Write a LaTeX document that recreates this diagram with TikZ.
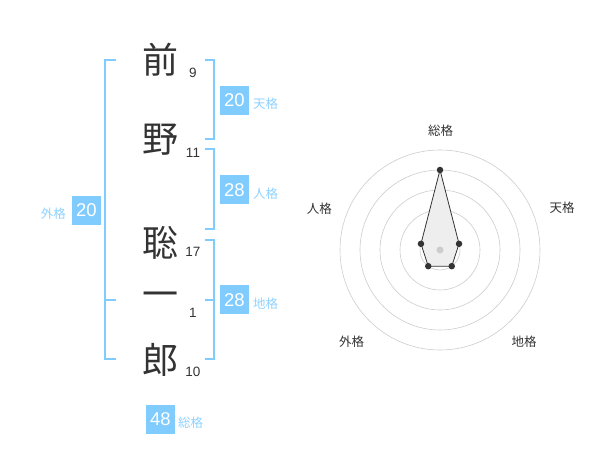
\documentclass[tikz,border=0pt]{standalone}
\usepackage{fontspec}
\setmainfont{Liberation Sans}
\newfontfamily\jpfont{Noto Sans CJK JP}
\usetikzlibrary{calc}
\definecolor{kakublue}{HTML}{80CCFF}
\definecolor{kakulabel}{HTML}{8FD2FF}
\definecolor{kakuink}{HTML}{333333}
\definecolor{gridgray}{HTML}{CCCCCC}
\definecolor{areagray}{HTML}{EEEEEE}

\begin{document}
\begin{tikzpicture}[
    x=1pt, y=1pt,
    kanji/.style={font=\jpfont\fontsize{36}{36}\selectfont, text=kakuink, inner sep=0pt},
    strokes/.style={font=\fontsize{13.5}{13.5}\selectfont, text=kakuink, inner sep=0pt},
    scorebox/.style={fill=kakublue, text=white, minimum width=29pt, minimum height=29pt,
        inner sep=0pt, font=\fontsize{18.5}{18.5}\selectfont},
    kaku/.style={font=\jpfont\fontsize{12.5}{12.5}\selectfont, text=kakulabel, inner sep=0pt},
    bracket/.style={draw=kakublue, line width=2pt},
    axislabel/.style={font=\jpfont\fontsize{12.5}{12.5}\selectfont, text=kakuink, inner sep=0pt},
    ring/.style={draw=gridgray, line width=0.6pt},
    dot/.style={circle, fill=kakuink, inner sep=0pt, minimum size=6.5pt},
]
\useasboundingbox (0,0) rectangle (600,470);

% ---- name column ----
\node[kanji] (mae)   at (160,410) {前};
\node[kanji] (no)    at (160,330) {野};
\node[kanji] (sato)  at (160,227) {聡};
\node[kanji] (ichi)  at (160,170) {一};
\node[kanji] (ro)    at (160,110) {郎};

\node[strokes] (mae-n)  at (193,397) {9};
\node[strokes] (no-n)   at (193,317) {11};
\node[strokes] (sato-n) at (193,218) {17};
\node[strokes] (ichi-n) at (193,157) {1};
\node[strokes] (ro-n)   at (193,98)  {10};

% ---- brackets ----
\draw[bracket] (205,410) -- (214,410) -- (214,331) -- (205,331);
\draw[bracket] (205,321) -- (214,321) -- (214,241) -- (205,241);
\draw[bracket] (205,230) -- (214,230) -- (214,111) -- (205,111);
\draw[bracket] (205,170) -- (214,170);
\draw[bracket] (116,410) -- (105,410) -- (105,111) -- (116,111);
\draw[bracket] (105,170) -- (116,170);

% ---- scores ----
\node[scorebox] (ten)   at (234.5,369.5) {20};
\node[kaku, anchor=west] (ten-l) at (253,366) {天格};
\node[scorebox] (jin)   at (234.5,280) {28};
\node[kaku, anchor=west] (jin-l) at (253,276.5) {人格};
\node[scorebox] (chi)   at (234.5,170) {28};
\node[kaku, anchor=west] (chi-l) at (253,166.5) {地格};
\node[scorebox] (gai)   at (86.5,259.5) {20};
\node[kaku, anchor=east] (gai-l) at (66,256.5) {外格};
\node[scorebox] (sou)   at (160.5,50.5) {48};
\node[kaku, anchor=west] (sou-l) at (178,47) {総格};

% ---- radar ----
\coordinate (ctr) at (440,220);
\foreach \r in {20,40,60,80,100}
    \draw[ring] (ctr) circle (\r);

\coordinate (p-sou) at ($(ctr)+(90:80)$);
\coordinate (p-ten) at ($(ctr)+(18:20)$);
\coordinate (p-chi) at ($(ctr)+(-54:20)$);
\coordinate (p-gai) at ($(ctr)+(-126:20)$);
\coordinate (p-jin) at ($(ctr)+(162:20)$);
\filldraw[fill=areagray, draw=kakuink, line width=0.8pt]
    (p-sou) -- (p-ten) -- (p-chi) -- (p-gai) -- (p-jin) -- cycle;
\fill[gridgray] (ctr) circle (3.5);
\foreach \p in {p-sou,p-ten,p-chi,p-gai,p-jin}
    \node[dot] at (\p) {};

\node[axislabel] (a-sou) at (440.7,339.3) {総格};
\node[axislabel] (a-ten) at (562,262) {天格};
\node[axislabel] (a-jin) at (319.3,261) {人格};
\node[axislabel] (a-gai) at (351.7,128) {外格};
\node[axislabel] (a-chi) at (524,128) {地格};

\end{tikzpicture}
\end{document}
